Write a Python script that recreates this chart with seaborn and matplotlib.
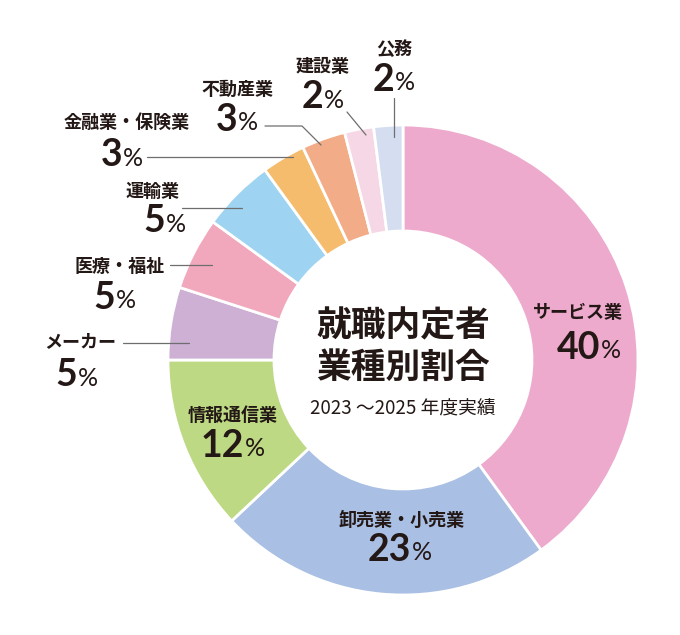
import matplotlib
matplotlib.use("Agg")
import matplotlib.pyplot as plt
import seaborn as sns

# 就職内定者 業種別割合 (2023~2025)
industries = ["サービス業", "卸売業・小売業", "情報通信業", "メーカー", "医療・福祉",
              "運輸業", "金融業・保険業", "不動産業", "建設業", "公務"]
shares = [40, 23, 12, 5, 5, 5, 3, 3, 2, 2]
colors = ["#EDAACC", "#A9BFE3", "#BDD983", "#CDB0D4", "#F1A8BD",
          "#9ED4F1", "#F5BC6D", "#F2AC88", "#F6D7E5", "#D5DEF1"]
title_lines = ["就職内定者", "業種別割合"]
subtitle = "2023 ～2025 年度実績"

# label layout in pixel coords: (name x, name y, split x of number/%, number y)
label_pos = [(578, 313, 600, 348), (402, 520, 411, 550), (233, 415, 244, 446),
             (80, 342, 77, 375), (120, 266, 115, 298), (153, 191, 165, 221),
             (127, 122, 122, 155), (237, 89, 237, 120), (323, 67, 323, 97),
             (394, 49, 394, 80)]
leaders = {3: [(123, 343), (189, 343)], 4: [(170, 265), (212, 265)],
           5: [(182, 208), (242, 208)], 6: [(147, 157), (293, 157)],
           7: [(265, 126), (302, 126), (321, 145)], 8: [(347, 112), (366, 135)],
           9: [(394, 98), (394, 137)]}

sns.set_theme(style="white")
plt.rcParams['font.family'] = ['Noto Sans CJK JP', 'DejaVu Sans']
ink = "#231815"

fig = plt.figure(figsize=(6.8, 6.35), dpi=100)
ax = fig.add_axes([0, 0, 1, 1])
cx, cy, R, W = 403, 360, 235, 106
ax.pie(shares, colors=sns.color_palette(colors), startangle=-90, counterclock=True,
       center=(cx, cy), radius=R,
       wedgeprops=dict(width=W, edgecolor="white", linewidth=2))
ax.set_xlim(0, 680)
ax.set_ylim(635, 0)
ax.set_aspect("equal")
ax.axis("off")

for i, pts in leaders.items():
    xs, ys = zip(*pts)
    ax.plot(xs, ys, color="#6e6e6e", lw=0.9, zorder=3)

for name, val, (nx, ny, sx, vy) in zip(industries, shares, label_pos):
    ax.text(nx, ny, name, ha="center", va="center", fontsize=13,
            fontweight="bold", color=ink)
    ax.text(sx, vy, str(val), ha="right", va="center", fontsize=27,
            family=["Lato", "DejaVu Sans"], fontweight="bold", color=ink)
    ax.text(sx + 1, vy + 3, "%", ha="left", va="center", fontsize=18,
            family=["Lato", "DejaVu Sans"], fontweight="normal", color=ink)

ax.text(cx, 326, title_lines[0], ha="center", va="center", fontsize=25,
        fontweight="bold", color=ink)
ax.text(cx, 367, title_lines[1], ha="center", va="center", fontsize=25,
        fontweight="bold", color=ink)
ax.text(cx, 409, subtitle, ha="center", va="center", fontsize=13.5, color=ink)

fig.savefig("out.png", dpi=100)
